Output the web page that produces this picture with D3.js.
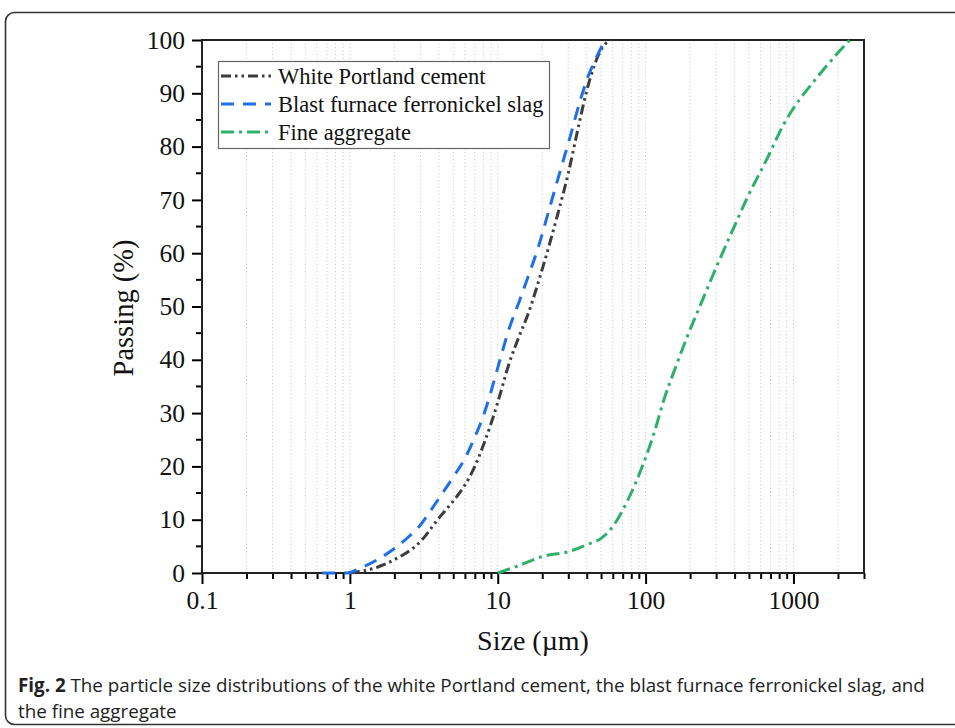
<!DOCTYPE html>
<html>
<head>
<meta charset="utf-8">
<script src="https://cdn.jsdelivr.net/npm/d3@7"></script>
<style>
  html, body { margin: 0; padding: 0; background: #fff; }
  svg { display: block; }
</style>
</head>
<body>
<svg id="chart" width="955" height="728"></svg>
<script>
// Particle size distributions: [size in µm, cumulative passing %]
const cementSize    = [1, 1.5, 2, 3, 4, 5, 6, 7, 8, 9, 10, 12, 14, 16, 20, 25, 30, 35, 40, 45, 50, 58];
const cementPassing = [0, 1, 2.5, 5.9, 10.3, 13.5, 16.5, 20, 24, 28, 32, 39.5, 44.5, 48.5, 57, 66.5, 75, 83.5, 90.5, 95.2, 98.2, 100];

const slagSize    = [0.65, 0.95, 1.2, 1.6, 2, 2.5, 3, 3.5, 4, 5, 6, 7, 8, 9, 10, 12, 14, 16, 18.5, 22.7, 26.5, 31, 36, 41, 47, 53];
const slagPassing = [0, 0, 1, 2.8, 4.6, 6.8, 9, 11.6, 14, 18, 21.5, 25.5, 29.5, 34, 38.5, 46, 51, 55.5, 60.5, 69, 75.5, 82, 88.5, 93.3, 97, 100];

const aggSize    = [10, 14.2, 20, 30, 40, 50, 61, 75, 95, 114, 133, 160, 191, 235, 300, 395, 487, 665, 860, 1000, 1380, 2000, 2400];
const aggPassing = [0, 1.5, 3.1, 4, 5.3, 6.5, 9, 13.4, 20, 26.2, 32.5, 38.7, 44.3, 50.3, 57.3, 64.8, 70.4, 77.8, 84.2, 87.2, 92.3, 97.6, 100];

const seriesNames = ["White Portland cement", "Blast furnace ferronickel slag", "Fine aggregate"];
const majorTicksX = [0.1, 1, 10, 100, 1000];
const yTicks = [0, 10, 20, 30, 40, 50, 60, 70, 80, 90, 100];

const series = [
  { name: seriesNames[0], x: cementSize, y: cementPassing, color: "#3d3d3d", dash: "10,4,2.5,4,2.5,4" },
  { name: seriesNames[1], x: slagSize,   y: slagPassing,   color: "#1f6fe6", dash: "13,9" },
  { name: seriesNames[2], x: aggSize,    y: aggPassing,    color: "#2fb06a", dash: "13,5,3,5" }
];

const svg = d3.select("#chart");
const plotL = 202, plotR = 864, plotT = 40, plotB = 573;
const serif = "'Liberation Serif', 'Times New Roman', serif";

const x = d3.scaleLog().domain([0.1, 3000]).range([plotL, plotR]);
const y = d3.scaleLinear().domain([0, 100]).range([plotB, plotT]);

// outer figure frame
svg.append("rect")
  .attr("x", 5.5).attr("y", 12.5).attr("width", 980).attr("height", 712)
  .attr("rx", 9).attr("fill", "none").attr("stroke", "#333").attr("stroke-width", 1.6);

// all log ticks (minor + major) inside the domain
const allTicksX = [];
for (let e = -1; e <= 3; e++) {
  for (let m = 1; m <= 9; m++) {
    const v = +(m * Math.pow(10, e)).toPrecision(3);
    if (v >= 0.1 && v <= 3000) allTicksX.push(v);
  }
}

// dotted vertical grid
svg.append("g").selectAll("line").data(allTicksX.filter(v => v > 0.1 && v < 3000)).join("line")
  .attr("x1", d => x(d)).attr("x2", d => x(d))
  .attr("y1", plotT).attr("y2", plotB)
  .attr("stroke", "#c4c4c4").attr("stroke-width", 1).attr("stroke-dasharray", "1,2.5");

// bottom axis: major + minor ticks
const xAxis = d3.axisBottom(x).tickValues(allTicksX)
  .tickSize(0).tickFormat(d => majorTicksX.includes(d) ? String(d) : "");
const gx = svg.append("g").attr("transform", `translate(0,${plotB})`).call(xAxis);
gx.select(".domain").remove();
gx.selectAll(".tick line")
  .attr("y2", d => majorTicksX.includes(d) ? 11 : 6)
  .attr("stroke", "#000").attr("stroke-width", 2);
gx.selectAll(".tick text")
  .attr("y", 18).attr("dy", "0.71em")
  .attr("font-family", serif)
  .attr("font-size", 25.5).attr("fill", "#111");

// left axis: major + minor ticks
const yMinor = d3.range(5, 100, 10);
const gy = svg.append("g").attr("transform", `translate(${plotL},0)`)
  .call(d3.axisLeft(y).tickValues(yTicks).tickSize(10).tickPadding(7));
gy.select(".domain").remove();
gy.selectAll(".tick line").attr("stroke", "#000").attr("stroke-width", 2);
gy.selectAll(".tick text")
  .attr("font-family", serif)
  .attr("font-size", 25.5).attr("fill", "#111");
gy.append("g").selectAll("line").data(yMinor).join("line")
  .attr("x1", 0).attr("x2", -6).attr("y1", d => y(d)).attr("y2", d => y(d))
  .attr("stroke", "#000").attr("stroke-width", 2);

// plot frame
svg.append("rect")
  .attr("x", plotL).attr("y", plotT).attr("width", plotR - plotL).attr("height", plotB - plotT)
  .attr("fill", "none").attr("stroke", "#222").attr("stroke-width", 2);

// curves
const line = d3.line().x(d => x(d[0])).y(d => y(d[1])).curve(d3.curveMonotoneX);
series.forEach(s => {
  const pts = s.x.map((v, i) => [v, s.y[i]]);
  svg.append("path").datum(pts)
    .attr("d", line)
    .attr("fill", "none")
    .attr("stroke", s.color)
    .attr("stroke-width", 3)
    .attr("stroke-dasharray", s.dash);
});

// legend
const lg = svg.append("g");
lg.append("rect").attr("x", 218.5).attr("y", 61.5).attr("width", 331).attr("height", 87)
  .attr("fill", "#fff").attr("stroke", "#666").attr("stroke-width", 1.2);
series.forEach((s, i) => {
  const yy = 76 + i * 28;
  lg.append("line").attr("x1", 221).attr("x2", 271).attr("y1", yy).attr("y2", yy)
    .attr("stroke", s.color).attr("stroke-width", 3).attr("stroke-dasharray", s.dash);
  lg.append("text").attr("x", 278).attr("y", yy).attr("dy", "0.35em")
    .attr("font-family", serif)
    .attr("font-size", 22.5).attr("fill", "#111").text(s.name);
});

// axis titles
svg.append("text").attr("x", 533).attr("y", 650).attr("text-anchor", "middle")
  .attr("font-family", serif)
  .attr("font-size", 28).attr("fill", "#111").text("Size (µm)");
svg.append("text")
  .attr("transform", "translate(133,308) rotate(-90)")
  .attr("text-anchor", "middle")
  .attr("font-family", serif)
  .attr("font-size", 28.5).attr("fill", "#111").text("Passing (%)");

// caption
const cap = svg.append("g").attr("font-family", "'Open Sans', 'Noto Sans', sans-serif")
  .attr("font-size", 18.8).attr("fill", "#222");
const t1 = cap.append("text").attr("x", 18).attr("y", 692);
t1.append("tspan").attr("font-weight", "bold").text("Fig. 2");
t1.append("tspan").text(" The particle size distributions of the white Portland cement, the blast furnace ferronickel slag, and");
cap.append("text").attr("x", 18).attr("y", 718).text("the fine aggregate");
</script>
</body>
</html>
